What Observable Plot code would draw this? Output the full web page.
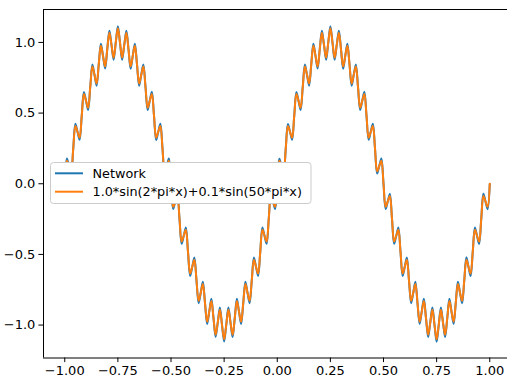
<!DOCTYPE html>
<html>
<head>
<meta charset="utf-8">
<script src="https://cdn.jsdelivr.net/npm/d3@7"></script>
<script src="https://cdn.jsdelivr.net/npm/@observablehq/plot@0.6"></script>
<style>
  html, body { margin: 0; padding: 0; background: white; }
  #chart { width: 507px; height: 381px; overflow: hidden; }
</style>
</head>
<body>
<div id="chart"></div>
<script>
// sampling grid: x from -1 to 1 in steps of 0.01
const xStart = -1;
const xStep = 0.01;

// target curve values
const target = [
  0, 0.1628, 0.1253, 0.0874, 0.2487, 0.4090, 0.3681, 0.3258, 0.4818, 0.6358,
  0.5878, 0.5374, 0.6845, 0.8290, 0.7705, 0.7090, 0.8443, 0.9763, 0.9048, 0.8298,
  0.9511, 1.0686, 0.9823, 0.8921, 0.9980, 1.1000, 0.9980, 0.8921, 0.9823, 1.0686,
  0.9511, 0.8298, 0.9048, 0.9763, 0.8443, 0.7090, 0.7705, 0.8290, 0.6845, 0.5374,
  0.5878, 0.6358, 0.4818, 0.3258, 0.3681, 0.4090, 0.2487, 0.0874, 0.1253, 0.1628,
  0, -0.1628, -0.1253, -0.0874, -0.2487, -0.4090, -0.3681, -0.3258, -0.4818, -0.6358,
  -0.5878, -0.5374, -0.6845, -0.8290, -0.7705, -0.7090, -0.8443, -0.9763, -0.9048, -0.8298,
  -0.9511, -1.0686, -0.9823, -0.8921, -0.9980, -1.1000, -0.9980, -0.8921, -0.9823, -1.0686,
  -0.9511, -0.8298, -0.9048, -0.9763, -0.8443, -0.7090, -0.7705, -0.8290, -0.6845, -0.5374,
  -0.5878, -0.6358, -0.4818, -0.3258, -0.3681, -0.4090, -0.2487, -0.0874, -0.1253, -0.1628,
  0, 0.1628, 0.1253, 0.0874, 0.2487, 0.4090, 0.3681, 0.3258, 0.4818, 0.6358,
  0.5878, 0.5374, 0.6845, 0.8290, 0.7705, 0.7090, 0.8443, 0.9763, 0.9048, 0.8298,
  0.9511, 1.0686, 0.9823, 0.8921, 0.9980, 1.1000, 0.9980, 0.8921, 0.9823, 1.0686,
  0.9511, 0.8298, 0.9048, 0.9763, 0.8443, 0.7090, 0.7705, 0.8290, 0.6845, 0.5374,
  0.5878, 0.6358, 0.4818, 0.3258, 0.3681, 0.4090, 0.2487, 0.0874, 0.1253, 0.1628,
  0, -0.1628, -0.1253, -0.0874, -0.2487, -0.4090, -0.3681, -0.3258, -0.4818, -0.6358,
  -0.5878, -0.5374, -0.6845, -0.8290, -0.7705, -0.7090, -0.8443, -0.9763, -0.9048, -0.8298,
  -0.9511, -1.0686, -0.9823, -0.8921, -0.9980, -1.1000, -0.9980, -0.8921, -0.9823, -1.0686,
  -0.9511, -0.8298, -0.9048, -0.9763, -0.8443, -0.7090, -0.7705, -0.8290, -0.6845, -0.5374,
  -0.5878, -0.6358, -0.4818, -0.3258, -0.3681, -0.4090, -0.2487, -0.0874, -0.1253, -0.1628,
  0
];

// network output (blue line, slightly deeper extrema)
const network = [
  0, 0.178, 0.125, 0.072, 0.249, 0.424, 0.368, 0.311, 0.482, 0.650,
  0.588, 0.522, 0.685, 0.843, 0.771, 0.694, 0.844, 0.990, 0.905, 0.815,
  0.951, 1.082, 0.982, 0.878, 0.998, 1.114, 0.998, 0.877, 0.982, 1.083,
  0.951, 0.814, 0.905, 0.991, 0.844, 0.693, 0.771, 0.844, 0.685, 0.521,
  0.588, 0.651, 0.482, 0.310, 0.368, 0.424, 0.249, 0.071, 0.125, 0.178,
  0, -0.178, -0.125, -0.072, -0.249, -0.425, -0.368, -0.310, -0.482, -0.652,
  -0.588, -0.522, -0.685, -0.845, -0.771, -0.693, -0.844, -0.992, -0.905, -0.814,
  -0.951, -1.084, -0.982, -0.876, -0.998, -1.116, -0.998, -0.876, -0.982, -1.085,
  -0.951, -0.814, -0.905, -0.992, -0.844, -0.693, -0.771, -0.845, -0.685, -0.521,
  -0.588, -0.652, -0.482, -0.310, -0.368, -0.425, -0.249, -0.071, -0.125, -0.179,
  0, 0.177, 0.125, 0.072, 0.249, 0.423, 0.368, 0.311, 0.482, 0.650,
  0.588, 0.522, 0.685, 0.843, 0.771, 0.694, 0.844, 0.990, 0.905, 0.815,
  0.951, 1.083, 0.982, 0.877, 0.998, 1.114, 0.998, 0.877, 0.982, 1.083,
  0.951, 0.814, 0.905, 0.991, 0.844, 0.694, 0.771, 0.844, 0.685, 0.522,
  0.588, 0.651, 0.482, 0.311, 0.368, 0.424, 0.249, 0.072, 0.125, 0.178,
  0, -0.178, -0.125, -0.072, -0.249, -0.425, -0.368, -0.310, -0.482, -0.652,
  -0.588, -0.522, -0.685, -0.845, -0.771, -0.693, -0.844, -0.992, -0.905, -0.813,
  -0.951, -1.085, -0.982, -0.876, -0.998, -1.118, -0.998, -0.876, -0.982, -1.085,
  -0.951, -0.813, -0.905, -0.992, -0.844, -0.693, -0.771, -0.846, -0.685, -0.520,
  -0.588, -0.653, -0.482, -0.309, -0.368, -0.426, -0.249, -0.070, -0.125, -0.180,
  -0.002
];

const xTicks = [-1, -0.75, -0.5, -0.25, 0, 0.25, 0.5, 0.75, 1];
const yTicks = [-1, -0.5, 0, 0.5, 1];
const seriesNames = ["Network", "1.0*sin(2*pi*x)+0.1*sin(50*pi*x)"];
const seriesColors = ["#1f77b4", "#ff7f0e"];

const data = target.map((v, i) => ({
  x: +(xStart + i * xStep).toFixed(2),
  net: network[i],
  tgt: v
}));

const X0 = -1.1, X1 = 1.0835, Y0 = -1.233, Y1 = 1.233;

const chart = Plot.plot({
  width: 507,
  height: 381,
  marginLeft: 43,
  marginRight: 0,
  marginTop: 9,
  marginBottom: 23.5,
  style: { fontFamily: "DejaVu Sans", fontSize: "13px", color: "black", background: "white" },
  x: { domain: [X0, X1] },
  y: { domain: [Y0, Y1] },
  marks: [
    Plot.line(data, { x: "x", y: "net", stroke: seriesColors[0], strokeWidth: 2, curve: "catmull-rom" }),
    Plot.line(data, { x: "x", y: "tgt", stroke: seriesColors[1], strokeWidth: 2, curve: "catmull-rom" }),
    Plot.ruleX([X0], { stroke: "black", strokeWidth: 1 }),
    Plot.ruleY([Y0, Y1], { stroke: "black", strokeWidth: 1 }),
    Plot.axisX({ ticks: xTicks, tickFormat: d3.format(".2f"), tickSize: 4.6, tickPadding: 3.5, label: null, fontSize: 13, stroke: "black" }),
    Plot.axisY({ ticks: yTicks, tickFormat: d3.format(".1f"), tickSize: 4.6, tickPadding: 3.5, label: null, fontSize: 13, stroke: "black" })
  ]
});

document.getElementById("chart").appendChild(chart);

// legend box (matplotlib-style)
const svg = d3.select(chart);
const lg = svg.append("g");
lg.append("rect")
  .attr("x", 50.5).attr("y", 162.5).attr("width", 260.5).attr("height", 41)
  .attr("rx", 3).attr("ry", 3)
  .style("fill", "#ffffff").style("fill-opacity", 1)
  .style("stroke", "#cccccc").style("stroke-width", 1);
const rowsY = [173.3, 191.7];
seriesNames.forEach((name, i) => {
  lg.append("line")
    .attr("x1", 55).attr("x2", 83).attr("y1", rowsY[i]).attr("y2", rowsY[i])
    .attr("stroke", seriesColors[i]).attr("stroke-width", 2);
  lg.append("text")
    .attr("x", 92.5).attr("y", rowsY[i]).attr("dy", "0.35em")
    .style("font-family", "'DejaVu Sans'")
    .style("font-size", "12.8px")
    .style("text-anchor", "start")
    .attr("fill", "black").text(name);
});
</script>
</body>
</html>
